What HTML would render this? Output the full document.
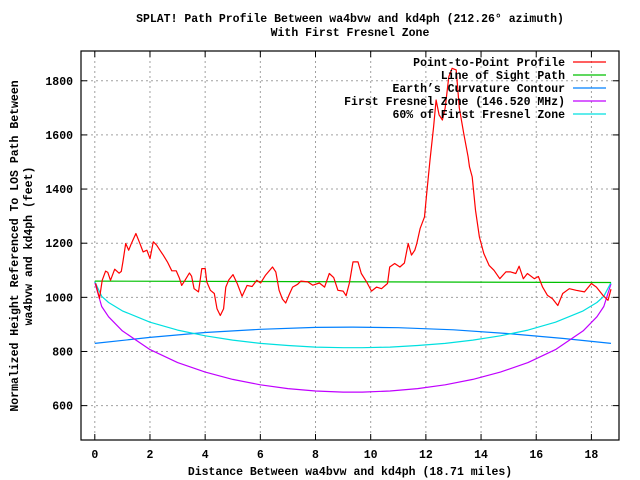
<!DOCTYPE html>
<html><head><meta charset="utf-8"><style>
body{margin:0;background:#fff;}
svg{display:block;font-family:"Liberation Mono",monospace;font-weight:bold;font-size:11.5px;}
</style></head><body>
<svg id="chart" width="640" height="480" viewBox="0 0 640 480" xmlns="http://www.w3.org/2000/svg">
<text x="350" y="22" text-anchor="middle">SPLAT! Path Profile Between wa4bvw and kd4ph (212.26° azimuth)</text>
<text x="350" y="36" text-anchor="middle">With First Fresnel Zone</text>
<text x="350" y="475" text-anchor="middle">Distance Between wa4bvw and kd4ph (18.71 miles)</text>
<text transform="translate(18,246) rotate(-90)" text-anchor="middle">Normalized Height Referenced To LOS Path Between</text>
<text transform="translate(32,246) rotate(-90)" text-anchor="middle">wa4bvw and kd4ph (feet)</text>
<g id="grid"></g><g id="axes"></g><g id="series"></g><g id="legend"></g>
</svg>
<script>
const xTicks=[0,2,4,6,8,10,12,14,16,18];
const yTicks=[600,800,1000,1200,1400,1600,1800];
const profileX=[0.03,0.17,0.27,0.39,0.47,0.57,0.72,0.88,0.96,1.02,1.12,1.23,1.33,1.49,1.63,1.75,1.89,2.0,2.12,2.24,2.36,2.48,2.63,2.79,2.95,3.07,3.15,3.27,3.43,3.51,3.6,3.76,3.88,4.0,4.06,4.19,4.33,4.43,4.55,4.67,4.75,4.86,5.01,5.16,5.34,5.52,5.7,5.87,6.01,6.19,6.44,6.56,6.68,6.8,6.92,7.05,7.17,7.35,7.47,7.72,7.9,8.14,8.33,8.5,8.66,8.81,9.0,9.11,9.23,9.36,9.54,9.66,9.85,10.03,10.21,10.39,10.61,10.69,10.87,11.06,11.22,11.36,11.48,11.6,11.67,11.79,11.95,12.03,12.15,12.28,12.37,12.48,12.6,12.7,12.83,12.95,13.1,13.21,13.37,13.53,13.58,13.68,13.8,13.94,14.1,14.29,14.47,14.68,14.9,15.07,15.26,15.38,15.53,15.68,15.93,16.08,16.23,16.41,16.59,16.78,16.96,17.2,17.45,17.75,18.0,18.18,18.42,18.6,18.71];
const profileY=[1052,996,1063,1097,1092,1063,1104,1089,1096,1131,1199,1174,1200,1236,1200,1168,1174,1143,1205,1193,1174,1156,1131,1098,1098,1070,1044,1063,1090,1078,1032,1020,1106,1106,1057,1026,1014,958,933,958,1038,1065,1084,1051,1004,1044,1040,1063,1053,1082,1112,1094,1026,994,979,1011,1038,1048,1060,1057,1045,1053,1038,1088,1073,1026,1023,1006,1053,1131,1131,1088,1057,1023,1038,1032,1051,1112,1125,1112,1127,1199,1156,1174,1199,1254,1297,1384,1507,1630,1729,1674,1655,1700,1815,1846,1840,1700,1606,1519,1482,1445,1322,1223,1162,1118,1100,1069,1094,1094,1088,1115,1069,1088,1069,1077,1038,1007,995,970,1014,1032,1026,1020,1051,1038,1007,989,1030];
const losX=[0,18.71];
const losY=[1060,1055];
const earthX=[0,2,4,6,8,9.35,11,13,15,17,18.71];
const earthY=[830,852,870,882,889,890,888,880,866,848,830];
const fresX=[0,0.25,0.5,1,2,3,4,5,6,7,8,9,9.7,10.7,11.7,12.7,13.7,14.7,15.7,16.7,17.7,18.2,18.45,18.71];
const fresY=[1055,966,928,876,807,759,724,697,677,663,654,650,650,654,663,677,697,724,759,807,876,928,966,1050];
const fres60Y=[1058,1004,981,950,908,879,858,842,830,822,816,814,814,816,822,830,842,858,879,908,950,981,1004,1055];
const legendLabels=["Point-to-Point Profile","Line of Sight Path","Earth\u2019s Curvature Contour","First Fresnel Zone (146.520 MHz)","60% of First Fresnel Zone"];
const legendColors=["#ff0000","#00c000","#0080ff","#c000ff","#00e0e0"];

const L=81,R=619,T=51,B=440,XMIN=-0.5,XMAX=19,YMIN=473,YMAX=1910;
const NS="http://www.w3.org/2000/svg";
function sx(v){return L+(v-XMIN)/(XMAX-XMIN)*(R-L);}
function sy(v){return B-(v-YMIN)/(YMAX-YMIN)*(B-T);}
function mk(tag,attrs,parent){const e=document.createElementNS(NS,tag);for(const k in attrs)e.setAttribute(k,attrs[k]);parent.appendChild(e);return e;}
const grid=document.getElementById('grid'),axes=document.getElementById('axes'),series=document.getElementById('series'),legend=document.getElementById('legend');
xTicks.forEach(t=>{const x=sx(t);
 const g=mk('line',{x1:x,x2:x,y1:T,y2:B,stroke:'#a0a0a0','stroke-dasharray':'2,3'},grid);
 
 
 mk('line',{x1:x,x2:x,y1:B,y2:B-6,stroke:'#000'},axes);
 mk('line',{x1:x,x2:x,y1:T,y2:T+6,stroke:'#000'},axes);
 const tx=mk('text',{x:x,y:B+18,'text-anchor':'middle'},axes);tx.textContent=t;
 
 
});
yTicks.forEach(t=>{const y=sy(t);
 const g=mk('line',{x1:L,x2:R,y1:y,y2:y,stroke:'#a0a0a0','stroke-dasharray':'2,3'},grid);
 
 
 mk('line',{x1:L,x2:L+6,y1:y,y2:y,stroke:'#000'},axes);
 mk('line',{x1:R,x2:R-6,y1:y,y2:y,stroke:'#000'},axes);
 const tx=mk('text',{x:L-8,y:y+4,'text-anchor':'end'},axes);tx.textContent=t;
 
 
});
const frame=mk('rect',{x:L,y:T,width:R-L,height:B-T,fill:'none',stroke:'#000','stroke-width':1.2},axes);


function line(xs,ys,color,name){
 const pts=xs.map((x,i)=>sx(x).toFixed(1)+','+sy(ys[i]).toFixed(1)).join(' ');
 const p=mk('polyline',{points:pts,fill:'none',stroke:color,'stroke-width':1.2,'stroke-linejoin':'round'},series);
 
 
}
line(earthX,earthY,legendColors[2],'earth-curvature-line');
line(fresX,fresY,legendColors[3],'fresnel-zone-line');
line(fresX,fres60Y,legendColors[4],'fresnel-60-line');
line(losX,losY,legendColors[1],'line-of-sight-line');
line(profileX,profileY,legendColors[0],'terrain-profile-line');
legendLabels.forEach((lab,i)=>{const y=66+i*13;
 const t=mk('text',{x:565,y:y,'text-anchor':'end'},legend);t.textContent=lab;
 
 
 const s=mk('line',{x1:573,x2:606,y1:y-4,y2:y-4,stroke:legendColors[i],'stroke-width':1.2},legend);
 
 
});
</script>
</body></html>
